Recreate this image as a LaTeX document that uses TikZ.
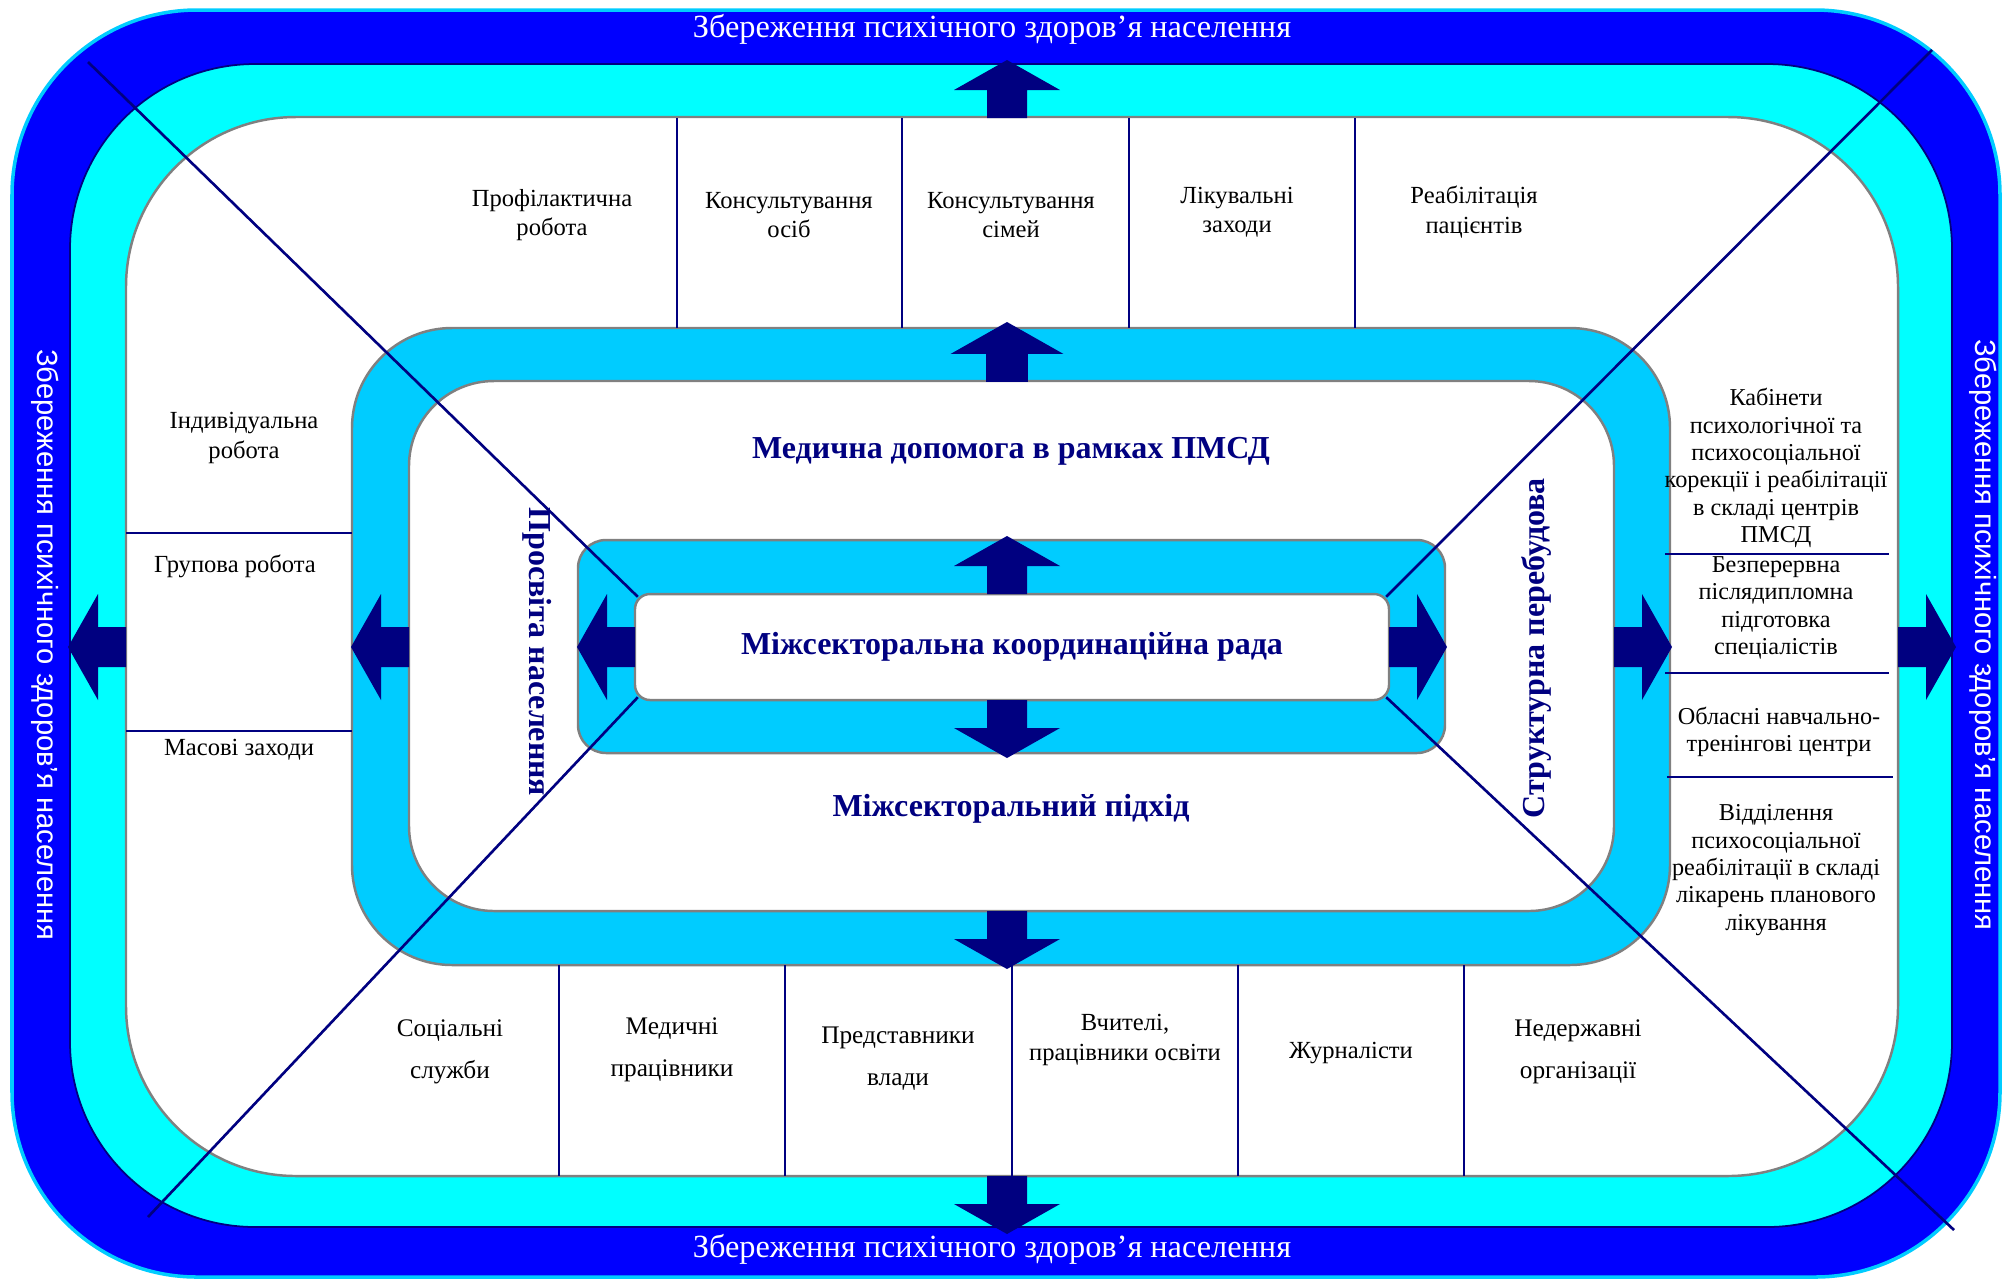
\documentclass[tikz,border=0pt]{standalone}
\usepackage{fontspec}
\setmainfont{Liberation Serif}
\newfontfamily\sidefont{Liberation Sans}
\usetikzlibrary{positioning}
\definecolor{band}{RGB}{0,0,255}
\definecolor{aqua}{RGB}{0,255,255}
\definecolor{ring}{RGB}{0,204,255}
\definecolor{ink}{RGB}{0,0,128}
\definecolor{edge}{RGB}{128,128,128}
\tikzset{
  cell/.style   ={align=center, inner sep=0pt, font=\fontsize{7.0}{8.4}\selectfont},
  wide/.style   ={cell, font=\fontsize{7.2}{12}\selectfont},
  small/.style  ={cell, font=\fontsize{6.9}{7.8}\selectfont},
  title/.style  ={text=white, inner sep=0pt, font=\fontsize{9.2}{11}\selectfont},
  side/.style   ={title, rotate=-90, font=\sidefont\fontsize{8.3}{10}\selectfont},
  head/.style   ={text=ink, inner sep=0pt, font=\bfseries\fontsize{9.1}{11}\selectfont},
  divider/.style={ink, line width=0.75pt},
  frame/.style  ={draw=edge, line width=0.7pt},
  fat/.pic={\fill[ink, pic actions] (0,-20) -- (28,-20) -- (28,-53) -- (58,0)
      -- (28,53) -- (28,20) -- (0,20) -- cycle;},
}

\begin{document}
\begin{tikzpicture}[x=0.1mm, y=-0.1mm]
  \useasboundingbox (0,0) rectangle (2004,1282);

  % outer bands
  \filldraw[fill=band, draw=ring, line width=1pt, rounded corners=18.5mm] (12,10) rectangle (2000,1277);
  \filldraw[fill=aqua, draw=ink, line width=0.5pt, rounded corners=18.5mm] (70,64) rectangle (1952,1227);
  \filldraw[fill=white, frame, rounded corners=17mm] (126,117) rectangle (1898,1176);

  % middle ring
  \filldraw[fill=ring, frame, rounded corners=10mm] (352,328) rectangle (1670,965);
  \filldraw[fill=white, frame, rounded corners=8.5mm] (409,381) rectangle (1614,911);

  % inner box
  \filldraw[fill=ring, frame, rounded corners=2.8mm] (578,540) rectangle (1445,753);
  \node[draw=edge, fill=white, line width=0.7pt, rounded corners=1.5mm,
        minimum width=75.4mm, minimum height=10.6mm] (council) at (1012,647) {};

  % cell dividers
  \foreach \x in {677,902,1129,1355} \draw[divider] (\x,118) -- (\x,328);
  \foreach \x in {559,785,1012,1238,1464} \draw[divider] (\x,965) -- (\x,1176);
  \foreach \y in {533,731} \draw[divider] (126,\y) -- (352,\y);
  \draw[divider] (1665,554) -- (1889,554);
  \draw[divider] (1665,673) -- (1889,673);
  \draw[divider] (1667,777) -- (1893,777);

  % diagonals
  \coordinate (tl) at (88,62);
  \coordinate (tr) at (1932,50);
  \coordinate (bl) at (148,1217);
  \coordinate (br) at (1954,1230);
  \draw[divider] (tl) -- ([shift={(4,4)}]council.north west);
  \draw[divider] (tr) -- ([shift={(-4,4)}]council.north east);
  \draw[divider] (bl) -- ([shift={(4,-4)}]council.south west);
  \draw[divider] (br) -- ([shift={(-4,-4)}]council.south east);

  % arrows
  \pic[rotate=90] at (1007,118) {fat};
  \pic[rotate=90, draw=edge, line width=0.5pt] at (1007,381) {fat};
  \pic[rotate=90] at (1007,594) {fat};
  \pic[rotate=-90] at (1007,700) {fat};
  \pic[rotate=-90] at (1007,911) {fat};
  \pic[rotate=-90] at (1007,1176) {fat};
  \pic[rotate=180] at (126,647) {fat};
  \pic[rotate=180] at (409,647) {fat};
  \pic[rotate=180] at (635,647) {fat};
  \pic at (1389,647) {fat};
  \pic at (1614,647) {fat};
  \pic at (1898,647) {fat};

  % band titles
  \node[title] (ttop) at (992,29) {Збереження психічного здоров’я населення};
  \node[title] (tbot) at (992,1249) {Збереження психічного здоров’я населення};
  \node[side] (tleft) at (45,645) {Збереження психічного здоров’я населення};
  \node[side] (tright) at (1983,635) {Збереження психічного здоров’я населення};

  % headings
  \node[head] (council text) at (council) {Міжсекторальна координаційна рада};
  \node[head] (medical) at (1011,451) {Медична допомога в рамках ПМСД};
  \node[head] (approach) at (1011,809) {Міжсекторальний підхід};
  \node[head, rotate=-90] (enlight) at (537,652) {Просвіта населення};
  \node[head, rotate=90] (rebuild) at (1536,648) {Структурна перебудова};

  % top cells
  \node[cell] (prev) at (552,215) {Профілактична\\робота};
  \node[cell] (cons1) at (789,215) {Консультування\\осіб};
  \node[cell] (cons2) at (1011,215) {Консультування\\сімей};
  \node[cell] (treat) at (1237,212) {Лікувальні\\заходи};
  \node[cell] (rehab) at (1474,212) {Реабілітація\\пацієнтів};

  % left cells
  \node[cell] (indiv) at (244,438) {Індивідуальна\\робота};
  \node[cell] (group) at (235,566) {Групова робота};
  \node[cell] (mass) at (239,750) {Масові заходи};

  % bottom cells
  \node[wide] (social) at (450,1052) {Соціальні\\служби};
  \node[wide] (medics) at (672,1050) {Медичні\\працівники};
  \node[wide] (gov) at (898,1059) {Представники\\влади};
  \node[cell] (teach) at (1125,1040) {Вчителі,\\працівники освіти};
  \node[cell] (press) at (1351,1053) {Журналісти};
  \node[wide] (ngo) at (1578,1052) {Недержавні\\організації};

  % right cells
  \node[small] (cab) at (1776,468) {Кабінети\\психологічної та\\психосоціальної\\корекції і реабілітації\\в складі центрів\\ПМСД};
  \node[small] (train) at (1776,608) {Безперервна\\післядипломна\\підготовка\\спеціалістів};
  \node[small] (region) at (1779,732) {Обласні навчально-\\тренінгові центри};
  \node[small] (dept) at (1776,870) {Відділення\\психосоціальної\\реабілітації в складі\\лікарень планового\\лікування};
\end{tikzpicture}
\end{document}
